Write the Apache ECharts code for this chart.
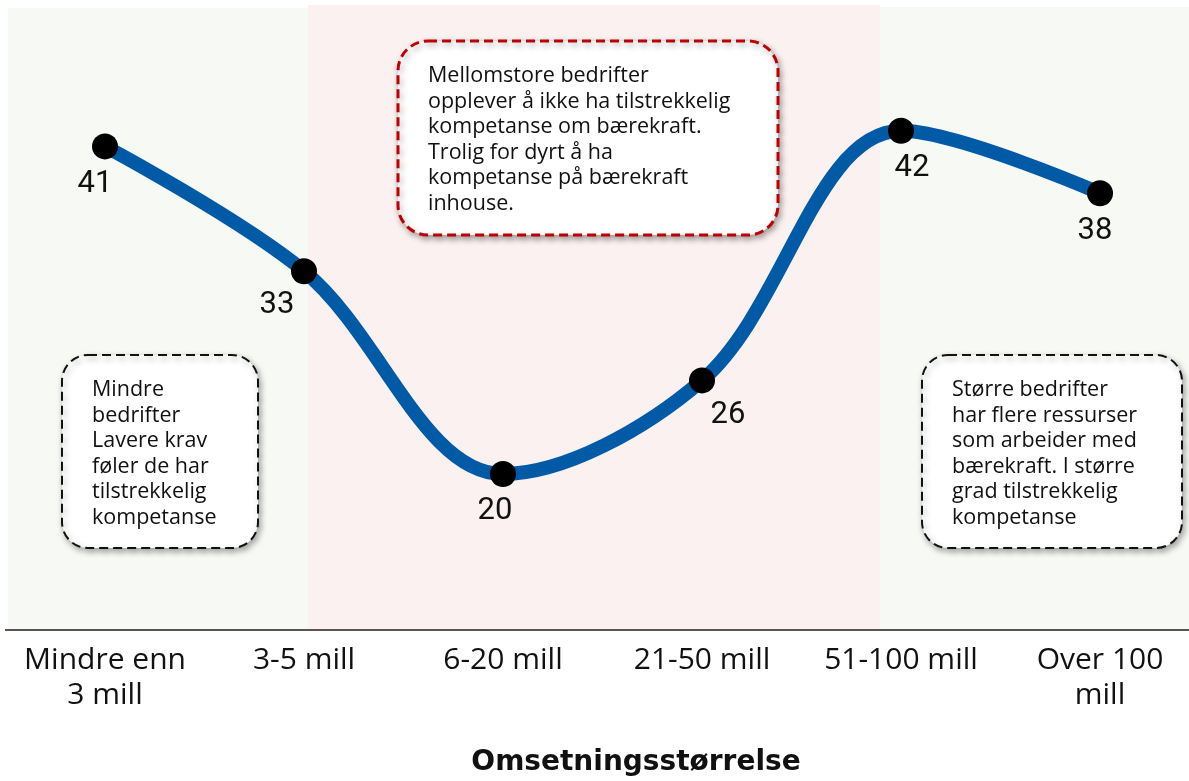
<!DOCTYPE html>
<html>
<head>
<meta charset="utf-8">
<script src="https://cdn.jsdelivr.net/npm/echarts@6/dist/echarts.min.js"></script>
<style>
  html, body { margin: 0; padding: 0; background: #fff; }
  #chart { width: 1189px; height: 781px; }
</style>
</head>
<body>
<div id="chart"></div>
<script>
// kategorier og verdier
const categories = ['Mindre enn\n3 mill', '3-5 mill', '6-20 mill', '21-50 mill', '51-100 mill', 'Over 100\nmill']
const values = [41, 33, 20, 26, 42, 38]
const axisTitle = 'Omsetningsstørrelse'

const noteMid = 'Mellomstore bedrifter\nopplever å ikke ha tilstrekkelig\nkompetanse om bærekraft.\nTrolig for dyrt å ha\nkompetanse på bærekraft\ninhouse.'
const noteLeft = 'Mindre\nbedrifter\nLavere krav\nføler de har\ntilstrekkelig\nkompetanse'
const noteRight = 'Større bedrifter\nhar flere ressurser\nsom arbeider med\nbærekraft. I større\ngrad tilstrekkelig\nkompetanse'

// etikett-forskyvning per punkt (stil)
const labelOffsets = [[-10, 0], [-27, -3], [-8, 0], [26, -3], [11, 0], [-5, 1]]

const chart = echarts.init(document.getElementById('chart'))

const textFont = '"Open Sans", sans-serif'

function noteBox(x, y, w, h, text, border, lw, r) {
  return {
    type: 'group',
    x: x,
    y: y,
    z: 50,
    children: [
      {
        type: 'rect',
        shape: { x: 0, y: 0, width: w, height: h, r: r },
        style: {
          fill: '#fff',
          stroke: border,
          lineWidth: lw,
          lineDash: [9, 5],
          shadowColor: 'rgba(0,0,0,0.35)',
          shadowBlur: 6,
          shadowOffsetX: 2,
          shadowOffsetY: 3
        }
      },
      {
        type: 'text',
        x: 30,
        y: 22,
        style: {
          text: text,
          font: '21.5px ' + textFont,
          lineHeight: 25.6,
          fill: '#111'
        }
      }
    ]
  }
}

const option = {
  animation: false,
  grid: { left: 105, right: 89, top: 6, bottom: 151 },
  xAxis: {
    type: 'category',
    data: categories,
    boundaryGap: false,
    axisLine: { show: false },
    axisTick: { show: false },
    axisLabel: {
      color: '#111',
      fontSize: 30,
      lineHeight: 35,
      margin: 13,
      fontFamily: textFont,
      interval: 0
    }
  },
  yAxis: {
    type: 'value',
    min: 10,
    max: 50,
    show: false,
    splitLine: { show: false }
  },
  graphic: [
    { type: 'rect', z: -10, silent: true, shape: { x: 8, y: 8, width: 300, height: 621 }, style: { fill: '#f7f9f5' } },
    { type: 'rect', z: -10, silent: true, shape: { x: 308, y: 5, width: 572, height: 624 }, style: { fill: '#fbf1f0' } },
    { type: 'rect', z: -10, silent: true, shape: { x: 880, y: 7, width: 309, height: 622 }, style: { fill: '#f7f9f5' } },
    { type: 'line', z: -5, silent: true, shape: { x1: 5, y1: 630, x2: 1189, y2: 630 }, style: { stroke: '#555', lineWidth: 2 } },
    {
      type: 'text',
      x: 636,
      y: 749,
      style: {
        text: axisTitle,
        align: 'center',
        verticalAlign: 'top',
        font: 'bold 28px "DejaVu Sans", sans-serif',
        fill: '#111'
      }
    },
    noteBox(398, 41, 380, 194, noteMid, '#c00000', 3, 30),
    noteBox(62, 355, 196, 193, noteLeft, '#111', 2, 26),
    noteBox(922, 355, 260, 193, noteRight, '#111', 2, 26)
  ],
  series: [
    {
      type: 'line',
      smooth: 0.35,
      data: values.map((v, i) => ({
        value: v,
        label: { offset: labelOffsets[i] }
      })),
      lineStyle: { color: '#005aa6', width: 14 },
      symbol: 'circle',
      symbolSize: 26,
      itemStyle: { color: '#000' },
      label: {
        show: true,
        position: 'bottom',
        distance: 9,
        fontSize: 31,
        color: '#111',
        fontFamily: 'Roboto, sans-serif'
      },
      z: 5
    }
  ]
}

chart.setOption(option)
</script>
</body>
</html>
